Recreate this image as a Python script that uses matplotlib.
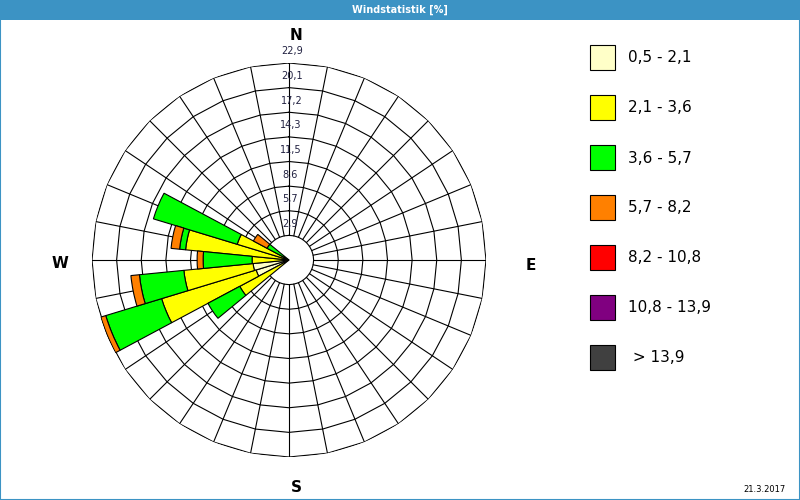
import numpy as np
import matplotlib
matplotlib.use('Agg')
import matplotlib.pyplot as plt
from matplotlib.patches import Rectangle

## data: wind rose, 32 sectors, % per speed class
classes = ['0,5 - 2,1', '2,1 - 3,6', '3,6 - 5,7', '5,7 - 8,2',
           '8,2 - 10,8', '10,8 - 13,9', ' > 13,9']
colors = ['#FFFFC8', '#FFFF00', '#00FF00', '#FF8000',
          '#FF0000', '#800080', '#404040']

directions = [236.25, 247.5, 258.75, 270.0, 281.25, 292.5, 303.75]
v_pale   = [0.0, 4.0, 4.2, 0.0, 0.0, 0.0, 0.0]
v_yellow = [6.5, 11.5, 8.1, 4.3, 12.1, 6.3, 0.0]
v_green  = [4.2, 6.8, 5.2, 5.7, 0.7, 10.2, 2.9]
v_orange = [0.0, 0.6, 1.0, 0.7, 1.0, 0.0, 1.8]
v_red    = [0.0, 0.0, 0.0, 0.0, 0.0, 0.0, 0.0]
v_purple = [0.0, 0.0, 0.0, 0.0, 0.0, 0.0, 0.0]
v_dark   = [0.0, 0.0, 0.0, 0.0, 0.0, 0.0, 0.0]
series = [v_pale, v_yellow, v_green, v_orange, v_red, v_purple, v_dark]

rmax = 22.94
nrings = 8
nsect = 32
date_txt = '21.3.2017'
title_txt = 'Windstatistik [%]'

W, H = 800, 500
fig = plt.figure(figsize=(8, 5), dpi=100)
fig.patch.set_facecolor('white')

## title bar + border
fig.patches.append(Rectangle((0, 1 - 20/H), 1, 20/H, transform=fig.transFigure,
                             facecolor='#3C93C4', edgecolor='none', zorder=0))
fig.patches.append(Rectangle((0, 0), 1, 1, transform=fig.transFigure,
                             facecolor='none', edgecolor='#3C93C4', lw=1.5, zorder=5))
fig.text(0.5, 1 - 10/H, title_txt, color='white', fontsize=7, fontweight='bold',
         ha='center', va='center')

## polar axes, centre at (289,260) px, radius 197 px
cx, cy, R = 289, 260, 197
ax = fig.add_axes([(cx - R)/W, (H - cy - R)/H, 2*R/W, 2*R/H], projection='polar')
ax.set_theta_zero_location('N')
ax.set_theta_direction(-1)
ax.set_ylim(0, rmax)
ax.axis('off')

step = rmax/nrings
th_grid = np.deg2rad(np.arange(nsect + 1)*360.0/nsect)
for k in range(1, nrings + 1):
    ax.plot(th_grid, np.full(len(th_grid), k*step), color='black', lw=0.8, zorder=1)
for th in th_grid[:-1]:
    ax.plot([th, th], [step, rmax], color='black', lw=0.8, zorder=1)

## stacked bars
theta = np.deg2rad(directions)
width = np.deg2rad(360.0/nsect)
bottom = np.zeros(len(directions))
for vals, c in zip(series, colors):
    vals = np.asarray(vals)
    m = vals > 0
    if m.any():
        ax.bar(theta[m], vals[m], width=width, bottom=bottom[m], color=c,
               edgecolor='black', linewidth=0.8, zorder=3)
    bottom += vals

## ring labels along north axis
for k in range(1, nrings + 1):
    ax.text(np.deg2rad(0.9), k*step + 1.35, ('%.1f' % (k*step)).replace('.', ','),
            fontsize=7, color='#202040', ha='center', va='center', zorder=4)

## compass letters
for lab, px, py in [('N', 296, 35), ('E', 531, 265), ('S', 296, 488), ('W', 60, 264)]:
    fig.text(px/W, 1 - py/H, lab, fontsize=11, fontweight='bold', ha='center', va='center')

## legend
for i, (lab, c) in enumerate(zip(classes, colors)):
    y0 = 45 + 50*i
    fig.patches.append(Rectangle((590/W, 1 - (y0 + 25)/H), 25/W, 25/H,
                                 transform=fig.transFigure, facecolor=c,
                                 edgecolor='black', lw=0.8))
    fig.text(628/W, 1 - (y0 + 13)/H, lab, fontsize=11, ha='left', va='center')

fig.text(765/W, 1 - 489/H, date_txt, fontsize=6, ha='center', va='center')

fig.savefig('out.png', dpi=100)
